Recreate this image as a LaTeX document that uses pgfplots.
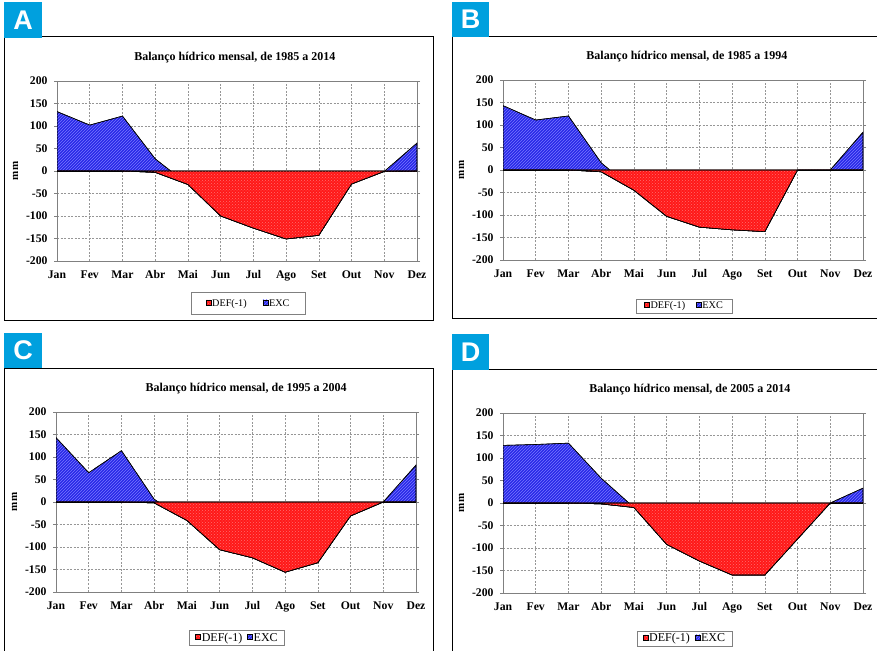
\documentclass[border=0pt]{standalone}
\usepackage{fontspec}
\setmainfont{Liberation Serif}
\newfontfamily\labelfont{Liberation Sans}
\usepackage{pgfplots}
\pgfplotsset{compat=1.18}
\usetikzlibrary{patterns}
\definecolor{defred}{RGB}{255,24,24}
\definecolor{deflight}{RGB}{255,110,110}
\definecolor{excblue}{RGB}{40,40,232}
\definecolor{exclight}{RGB}{120,120,255}
\definecolor{labblue}{RGB}{0,160,222}
\definecolor{axgray}{RGB}{128,128,128}
\definecolor{gridgray}{RGB}{150,150,150}

\pgfplotsset{
 balanco/.style={
  scale only axis, width=360pt, height=180pt, anchor=south west,
  xmin=0, xmax=11, ymin=-200, ymax=200,
  stack plots=y,
  xtick={0,...,11},
  xticklabels={Jan,Fev,Mar,Abr,Mai,Jun,Jul,Ago,Set,Out,Nov,Dez},
  ytick={-200,-150,...,200},
  yticklabels={-200,-150,-100,-50,0,50,100,150,200},
  grid=major,
  major grid style={gridgray, dash pattern=on 2pt off 1.5pt, line width=0.5pt},
  axis line style={axgray, line width=0.8pt},
  tick align=outside,
  xtick style={draw=none},
  ytick style={axgray, line width=0.6pt},
  major tick length=3pt,
  tick label style={font=\fontsize{11.7}{12}\selectfont\bfseries},
  yticklabel style={xshift=-3pt},
  xticklabel style={yshift=-3pt},
  ylabel={mm},
  ylabel style={font=\fontsize{11}{12}\selectfont\bfseries, at={(axis description cs:-0.115,0.5)}, anchor=center},
  every axis title/.style={font=\fontsize{12}{12}\selectfont\bfseries, anchor=center},
  legend columns=2,
  legend cell align=left,
  legend image code/.code={\draw[##1,draw=black,line width=0.3pt] (0pt,-1.2pt) rectangle (5pt,3.8pt);},
  legend style={draw=axgray, line width=0.6pt, anchor=center, inner xsep=4pt, inner ysep=1pt,
     nodes={inner xsep=1pt, inner ysep=1.5pt}},
 },
 defstyle/.style={fill=defred, draw=black, line width=0.6pt,
    postaction={pattern=crosshatch dots, pattern color=deflight}},
 excstyle/.style={fill=excblue, draw=black, line width=0.6pt,
    postaction={pattern=north east lines, pattern color=exclight}},
}

\begin{document}
\begin{tikzpicture}[x=1pt,y=1pt]
\useasboundingbox (0,0) rectangle (877,650);

% ---------- frames and letters ----------
\draw[black, line width=1pt] (4,329) rectangle (433,613);
\draw[black, line width=1pt] (880,613) -- (452,613) -- (452,331) -- (880,331);
\draw[black, line width=1pt] (4,-5) -- (4,281) -- (433,281) -- (433,-5);
\draw[black, line width=1pt] (452,-5) -- (452,280) -- (880,280);

\fill[labblue] (4,612) rectangle (42,648);
\node[text=white, font=\labelfont\bfseries\fontsize{27}{27}\selectfont] at (23,630) {A};
\fill[labblue] (452,613) rectangle (489,648);
\node[text=white, font=\labelfont\bfseries\fontsize{27}{27}\selectfont] at (470.5,630.5) {B};
\fill[labblue] (4,282) rectangle (42,317);
\node[text=white, font=\labelfont\bfseries\fontsize{27}{27}\selectfont] at (23,299.5) {C};
\fill[labblue] (452,280) rectangle (489,316);
\node[text=white, font=\labelfont\bfseries\fontsize{27}{27}\selectfont] at (470.5,298) {D};

% ---------- A ----------
\begin{axis}[balanco, at={(57pt,389pt)},
  title={Balanço hídrico mensal, de 1985 a 2014},
  title style={at={(axis description cs:0.494,1.128)}},
  legend style={at={(axis description cs:0.531,-0.236)}, font=\fontsize{10.2}{11}\selectfont,
    inner xsep=15pt, inner ysep=5pt,
    /tikz/every even column/.append style={column sep=15pt}},
]
\addplot[defstyle] coordinates {(0,0) (1,0) (2,0) (3,-3) (4,-30) (5,-100) (6,-127) (7,-151) (8,-143) (9,-29) (10,-1) (11,0)} \closedcycle;
\addlegendentry{DEF(-1)}
\addplot[excstyle] coordinates {(0,132) (1,102) (2,122) (3,30) (4,0) (5,0) (6,0) (7,0) (8,0) (9,0) (10,0) (11,62)} \closedcycle;
\addlegendentry{EXC}
\draw[black, line width=0.8pt] (axis cs:0,0) -- (axis cs:11,0);
\end{axis}

% ---------- B ----------
\begin{axis}[balanco, at={(503pt,390pt)},
  title={Balanço hídrico mensal, de 1985 a 1994},
  title style={at={(axis description cs:0.511,1.128)}},
  legend style={at={(axis description cs:0.503,-0.256)}, font=\fontsize{10.2}{11}\selectfont,
    inner xsep=8pt,
    /tikz/every even column/.append style={column sep=10pt}},
]
\addplot[defstyle] coordinates {(0,0) (1,0) (2,0) (3,-4) (4,-45) (5,-103) (6,-127) (7,-133) (8,-137) (9,0) (10,0) (11,0)} \closedcycle;
\addlegendentry{DEF(-1)}
\addplot[excstyle] coordinates {(0,143) (1,111) (2,120) (3,20) (4,0) (5,0) (6,0) (7,0) (8,0) (9,0) (10,0) (11,84)} \closedcycle;
\addlegendentry{EXC}
\draw[black, line width=0.8pt] (axis cs:0,0) -- (axis cs:11,0);
\end{axis}

% ---------- C ----------
\begin{axis}[balanco, at={(56pt,58pt)},
  title={Balanço hídrico mensal, de 1995 a 2004},
  title style={at={(axis description cs:0.528,1.128)}},
  legend style={at={(axis description cs:0.503,-0.256)}, font=\fontsize{12}{12}\selectfont,
    inner xsep=6pt,
    /tikz/every even column/.append style={column sep=4pt}},
]
\addplot[defstyle] coordinates {(0,0) (1,0) (2,0) (3,-2) (4,-41) (5,-106) (6,-124) (7,-156) (8,-135) (9,-31) (10,0) (11,0)} \closedcycle;
\addlegendentry{DEF(-1)}
\addplot[excstyle] coordinates {(0,143) (1,65) (2,114) (3,8) (4,0) (5,0) (6,0) (7,0) (8,0) (9,0) (10,0) (11,82)} \closedcycle;
\addlegendentry{EXC}
\draw[black, line width=0.8pt] (axis cs:0,0) -- (axis cs:11,0);
\end{axis}

% ---------- D ----------
\begin{axis}[balanco, at={(503pt,57pt)},
  title={Balanço hídrico mensal, de 2005 a 2014},
  title style={at={(axis description cs:0.519,1.128)}},
  legend style={at={(axis description cs:0.504,-0.253)}, font=\fontsize{12}{12}\selectfont,
    inner xsep=6pt,
    /tikz/every even column/.append style={column sep=4pt}},
]
\addplot[defstyle] coordinates {(0,0) (1,0) (2,0) (3,-2) (4,-10) (5,-92) (6,-129) (7,-160) (8,-160) (9,-80) (10,0) (11,0)} \closedcycle;
\addlegendentry{DEF(-1)}
\addplot[excstyle] coordinates {(0,128) (1,130) (2,133) (3,57) (4,0) (5,0) (6,0) (7,0) (8,0) (9,0) (10,0) (11,33)} \closedcycle;
\addlegendentry{EXC}
\draw[black, line width=0.8pt] (axis cs:0,0) -- (axis cs:11,0);
\end{axis}
\end{tikzpicture}
\end{document}
